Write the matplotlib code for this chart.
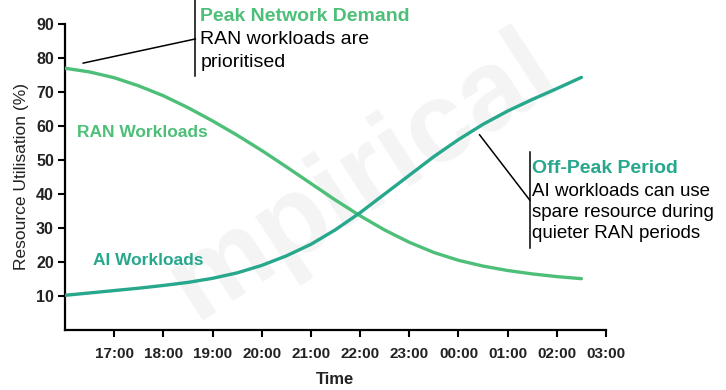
import numpy as np
import matplotlib.pyplot as plt

plt.rcParams['font.family'] = ['Liberation Sans', 'DejaVu Sans']

# time in hours since midnight (values past 24 are the next day)
hours = [16.0, 16.5, 17.0, 17.5, 18.0, 18.5, 19.0, 19.5, 20.0, 20.5, 21.0,
         21.5, 22.0, 22.5, 23.0, 23.5, 24.0, 24.5, 25.0, 25.5, 26.0, 26.5]
ran_util = [77.0, 75.9, 74.2, 71.8, 68.9, 65.4, 61.5, 57.3, 52.8, 48.0, 43.1,
            38.2, 33.6, 29.4, 25.8, 22.8, 20.5, 18.8, 17.5, 16.5, 15.7, 15.1]
ai_util = [10.2, 10.9, 11.6, 12.3, 13.1, 14.0, 15.2, 16.8, 19.0, 21.8, 25.2,
           29.5, 34.5, 40.0, 45.5, 51.0, 56.0, 60.5, 64.4, 67.8, 71.0, 74.3]

tick_hours = [17, 18, 19, 20, 21, 22, 23, 24, 25, 26, 27]
tick_labels = ['17:00', '18:00', '19:00', '20:00', '21:00', '22:00',
               '23:00', '00:00', '01:00', '02:00', '03:00']
y_ticks = [10, 20, 30, 40, 50, 60, 70, 80, 90]

ran_color = '#4dbf78'
ai_color = '#27a88c'

fig = plt.figure(figsize=(7.26, 3.9), dpi=100)
ax = fig.add_axes([65 / 726, 60 / 390, 541 / 726, 306 / 390])

# faint watermark behind the data
ax.text(0.55, 0.5, 'mpirical', transform=ax.transAxes, fontsize=82,
        fontweight='bold', color='#f4f4f4', rotation=33, ha='center',
        va='center', zorder=0, clip_on=True)

ax.plot(hours, ran_util, color=ran_color, lw=2.4, solid_capstyle='round',
        solid_joinstyle='round', zorder=3)
ax.plot(hours, ai_util, color=ai_color, lw=2.4, solid_capstyle='round',
        solid_joinstyle='round', zorder=3)

ax.set_xlim(16, 27)
ax.set_ylim(0, 90)
ax.set_xticks(tick_hours)
ax.set_xticklabels(tick_labels)
ax.set_yticks(y_ticks)

for s in ['top', 'right']:
    ax.spines[s].set_visible(False)
for s in ['left', 'bottom']:
    ax.spines[s].set_linewidth(1.6)
ax.tick_params(axis='x', direction='out', length=5, width=1.5, labelsize=11, pad=7)
ax.tick_params(axis='y', direction='out', length=5, width=1.5, labelsize=11.5, pad=3)
for lab in ax.get_xticklabels() + ax.get_yticklabels():
    lab.set_fontweight('bold')
    lab.set_color('#222222')

ax.set_xlabel('Time', fontsize=12, fontweight='bold', color='#222222', labelpad=8)
ax.set_ylabel('Resource Utilisation (%)', fontsize=12.5, color='#222222', labelpad=5)

# series labels
ax.text(16.25, 58, 'RAN Workloads', color=ran_color, fontsize=12.5, fontweight='bold',
        ha='left', va='center')
ax.text(16.57, 20.5, 'AI Workloads', color=ai_color, fontsize=12.5, fontweight='bold',
        ha='left', va='center')

# peak callout
ax.plot([18.65, 18.65], [74.7, 97.5], color='black', lw=1.1, clip_on=False)
ax.plot([16.37, 18.65], [78.5, 85.6], color='black', lw=1.1, clip_on=False)
ax.text(18.75, 92.1, 'Peak Network Demand', color=ran_color, fontsize=14,
        fontweight='bold', ha='left', va='center', clip_on=False)
ax.text(18.75, 85.3, 'RAN workloads are', color='black', fontsize=14,
        ha='left', va='center', clip_on=False)
ax.text(18.75, 78.8, 'prioritised', color='black', fontsize=14,
        ha='left', va='center', clip_on=False)

# off-peak callout
ax.plot([25.45, 25.45], [24.1, 52.4], color='black', lw=1.1)
ax.plot([24.43, 25.45], [57.4, 38.2], color='black', lw=1.1)
ax.text(25.49, 47.6, 'Off-Peak Period', color=ai_color, fontsize=14,
        fontweight='bold', ha='left', va='center', clip_on=False)
ax.text(25.49, 40.8, 'AI workloads can use', color='black', fontsize=13.5,
        ha='left', va='center', clip_on=False)
ax.text(25.49, 34.5, 'spare resource during', color='black', fontsize=13.5,
        ha='left', va='center', clip_on=False)
ax.text(25.49, 28.3, 'quieter RAN periods', color='black', fontsize=13.5,
        ha='left', va='center', clip_on=False)

fig.savefig('out.png', dpi=100)
